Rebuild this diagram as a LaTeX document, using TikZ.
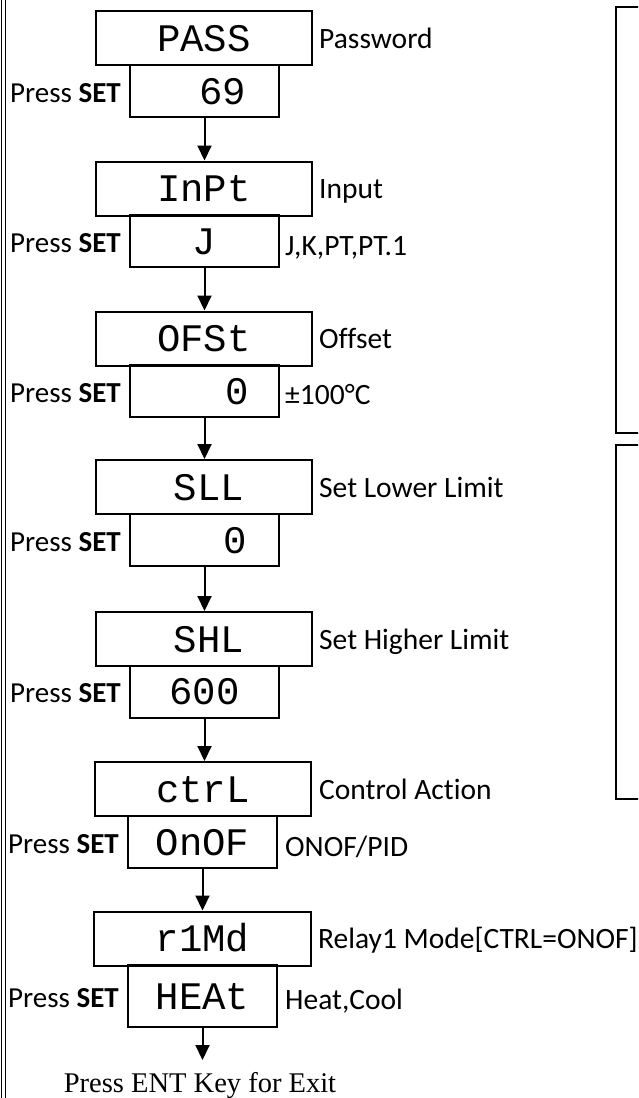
\documentclass[tikz,border=0pt]{standalone}
\usepackage{fontspec}
\setmainfont{Carlito}[Ligatures=NoCommon]
\newfontfamily\segfont{Liberation Mono}
\newfontfamily\exitfont{Liberation Serif}
\usetikzlibrary{arrows.meta}
\begin{document}
\begin{tikzpicture}[x=1pt,y=-1pt,
  disp/.style={draw,line width=2pt,minimum width=216pt,minimum height=54pt,inner sep=0pt,
    font=\segfont\fontsize{39}{39}\selectfont,text height=26pt,text depth=0pt},
  valbox/.style={disp,minimum width=149pt,minimum height=52pt},
  press/.style={anchor=base west,inner sep=0pt,font=\fontsize{29}{34}\selectfont},
  lab/.style={anchor=base west,inner sep=0pt,font=\fontsize{29.5}{34}\selectfont},
  flow/.style={line width=2pt,-{Triangle[width=14pt,length=15pt]}},
  side/.style={line width=1.5pt}]
\useasboundingbox (0,0) rectangle (638,1098);
% left double rule
\draw[line width=1.1pt] (1.5,0) -- (1.5,1098);
\draw[line width=1.1pt] (5.5,0) -- (5.5,1098);
% right boxes (cut off)
\begin{scope}
\clip (0,0) rectangle (638,1098);
\draw[side] (616,7) rectangle (660,433);
\draw[side] (616,445) rectangle (660,799);
\end{scope}
% row 1
\node[disp]   (t1) at (204,38)    {PASS};
\node[valbox] (v1) at (204.5,91)  {\hspace*{37pt}69};
\node[press]  (p1) at (10,102)    {Press \textbf{SET}};
\node[lab]    (l1) at (319,48)    {Password};
% row 2
\node[disp]   (t2) at (204,188.5) {InPt};
\node[valbox] (v2) at (204.5,241) {J};
\node[press]  (p2) at (10,252)    {Press \textbf{SET}};
\node[lab]    (l2) at (319,198)   {Input};
\node[lab]    (r2) at (285,255)   {J,K,PT,PT.1};
% row 3
\node[disp]   (t3) at (204,338.5) {OFSt};
\node[valbox] (v3) at (204.5,391) {\hspace*{65pt}0};
\node[press]  (p3) at (10,402)    {Press \textbf{SET}};
\node[lab]    (l3) at (319,348)   {Offset};
\node[lab]    (r3) at (285,404)   {±100°C};
% row 4
\node[disp]   (t4) at (204,487)   {\hspace*{10pt}SLL};
\node[valbox] (v4) at (204.5,540) {\hspace*{61pt}0};
\node[press]  (p4) at (10,551)    {Press \textbf{SET}};
\node[lab]    (l4) at (319,497)   {Set Lower Limit};
% row 5
\node[disp]   (t5) at (204,639)   {\hspace*{10pt}SHL};
\node[valbox] (v5) at (204.5,691.5) {600};
\node[press]  (p5) at (10,702)    {Press \textbf{SET}};
\node[lab]    (l5) at (319,649)   {Set Higher Limit};
% row 6
\node[disp]   (t6) at (203,789)   {ctrL};
\node[valbox] (v6) at (202.5,842) {OnOF};
\node[press]  (p6) at (8,853)     {Press \textbf{SET}};
\node[lab]    (l6) at (319,799)   {Control Action};
\node[lab]    (r6) at (285,856)   {ONOF/PID};
% row 7
\node[disp,minimum width=217pt] (t7) at (202.5,938.5) {r1Md};
\node[valbox,minimum height=62pt] (v7) at (202.5,996) {HEAt};
\node[press]  (p7) at (8,1007)    {Press \textbf{SET}};
\node[lab]    (l7) at (318,948)   {Relay1 Mode[CTRL=ONOF]};
\node[lab]    (r7) at (285,1009)  {Heat,Cool};
% exit
\coordinate (e) at (203,1060);
\node[anchor=base,inner sep=0pt,font=\exitfont\fontsize{28.5}{34}\selectfont] (exit) at (200,1092) {Press ENT Key for Exit};
% arrows
\draw[flow] (v1.south) -- (v1.south |- t2.north);
\draw[flow] (v2.south) -- (v2.south |- t3.north);
\draw[flow] (v3.south) -- (v3.south |- t4.north);
\draw[flow] (v4.south) -- (v4.south |- t5.north);
\draw[flow] (v5.south) -- (v5.south |- t6.north);
\draw[flow] (v6.south) -- (v6.south |- t7.north);
\draw[flow] (v7.south) -- (v7.south |- e);
\end{tikzpicture}
\end{document}
